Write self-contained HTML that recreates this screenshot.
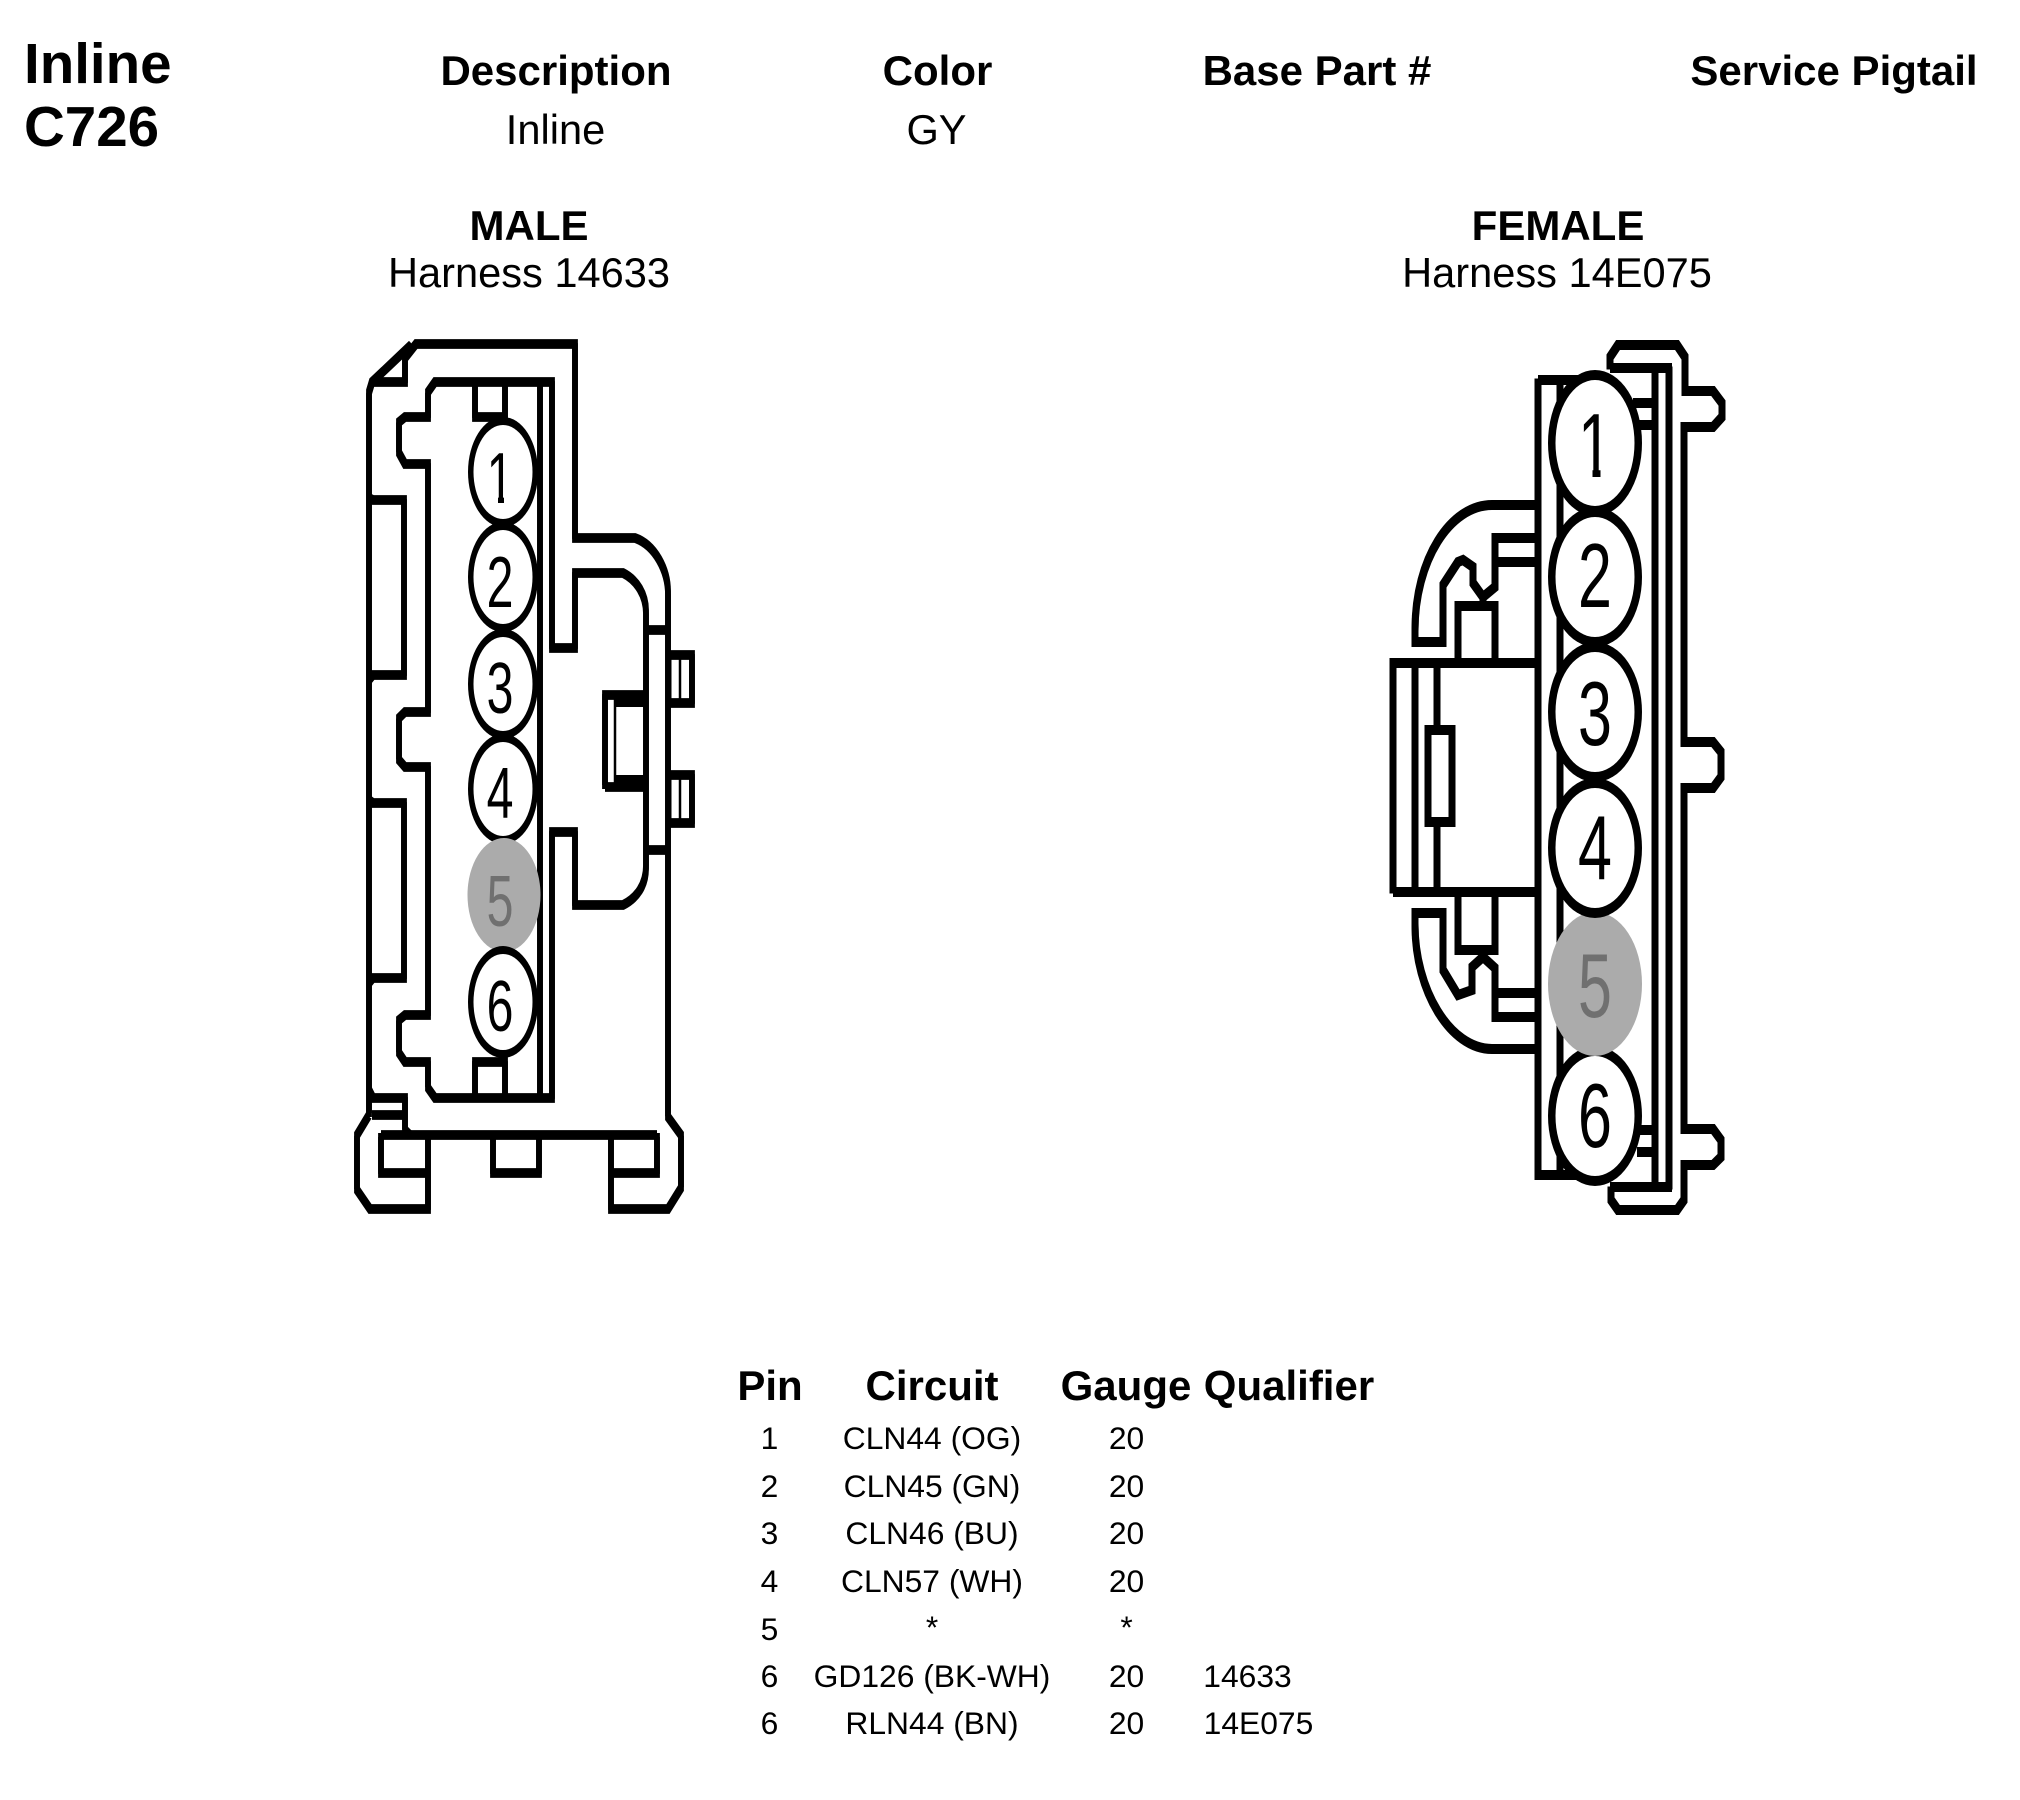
<!DOCTYPE html>
<html>
<head>
<meta charset="utf-8">
<style>
html,body{margin:0;padding:0;background:#fff}
svg{display:block}
text{font-family:"Liberation Sans",Arial,sans-serif;fill:#000}
.h{font-size:42px;font-weight:700;text-anchor:middle}
.n{font-size:41.6px;text-anchor:middle}
.t{font-size:56.5px;font-weight:700}
.r{font-size:31.8px;text-anchor:middle}
.s{fill:none;stroke:#000;stroke-linejoin:miter;stroke-linecap:butt}
</style>
</head>
<body>
<svg width="2020" height="1800" viewBox="0 0 2020 1800" xmlns="http://www.w3.org/2000/svg">
<rect width="2020" height="1800" fill="#fff"/>
<defs>
<g id="male" class="s" stroke-width="5.8">
<path d="M369 1115V392L372 382L411 345"/>
<path d="M372 382H405V358L416 344H575V538H635C655 545 668 570 668 593V1117L681 1135V1188L668 1209H611V1135"/>
<path d="M428 1135V1209H370L357 1190V1135L369 1115"/>
<path d="M381 1135H657"/>
<path d="M381 1135V1173H428"/>
<path d="M611 1173H657V1135"/>
<path d="M493 1135V1173H539V1135"/>
<path d="M369 498L373 500H404V675H373L369 680"/>
<path d="M369 800L373 803H404V978H373L369 983"/>
<path d="M369 1090L373 1098H405V1130L410 1135"/>
<path d="M372 1115H405"/>
<path d="M435 382H552V648H575V573H623C637 580 646 595 646 612V867C646 885 637 898 623 905H575V832H552V1098H435L428 1088V1062H405L399 1053V1020L405 1015H428V767H405L399 760V718L405 712H428V464H405L399 453V422L405 417H428V392Z"/>
<path d="M540 382V1098"/>
<path d="M475 382V417H505V382"/>
<path d="M475 1098V1062H505V1098"/>
<path d="M646 630H669"/>
<path d="M646 850H669"/>
<path d="M669 655H692V703H669"/>
<path d="M669 775H692V823H669"/>
<path d="M605 787V695H646"/>
<path d="M605 787H646"/>
</g>
<g id="female" class="s" stroke-width="7">
<path d="M1538 380H1600M1538 380V1175H1600"/>
<path d="M1560 380V1175"/>
<path d="M1655 367V1188"/>
<path d="M1669 368V1188"/>
<path d="M1610 368H1672M1610 1187H1672"/>
<path d="M1610 368V357L1618 345H1677L1685 357V391H1713L1722 403V417L1713 427H1684V742H1713L1721 752V777L1713 788H1684V1129H1713L1721 1140V1157L1713 1165H1684V1200L1677 1210H1618L1611 1200V1188"/>
<path d="M1633 403H1655M1633 425H1655M1637 1130H1655M1637 1152H1655"/>
<path d="M1538 505H1492C1450 505 1415 560 1415 630V642H1443V585L1458 562L1463 560L1473 567V583L1483 597L1495 587V538H1538"/>
<path d="M1495 562H1538"/>
<path d="M1483 597V606"/>
<path d="M1458 663V606H1495V663"/>
<path d="M1393 892V663H1538"/>
<path d="M1393 892H1538"/>
<path d="M1415 663V892"/>
<path d="M1437 663V730M1437 822V892"/>
<path d="M1428 730H1452V822H1428Z"/>
<path d="M1458 892V950H1495V892"/>
<path d="M1538 1049H1492C1450 1049 1415 990 1415 925V913H1443V970L1458 995L1472 990V967L1483 957L1495 968V1017H1538"/>
<path d="M1495 993H1538"/>
</g>
</defs>

<text class="t" x="24" y="83">Inline</text>
<text class="t" x="24" y="146">C726</text>
<text class="h" x="556" y="85">Description</text>
<text class="h" x="937.5" y="85">Color</text>
<text class="h" x="1317" y="85">Base Part #</text>
<text class="h" x="1834" y="85">Service Pigtail</text>
<text class="n" x="555.5" y="144">Inline</text>
<text class="n" x="936.5" y="144">GY</text>
<text class="h" x="529" y="240">MALE</text>
<text class="n" x="529" y="287">Harness 14633</text>
<text class="h" x="1558" y="240">FEMALE</text>
<text class="n" x="1557" y="287">Harness 14E075</text>

<!-- male connector -->
<use href="#male" y="-2"/>
<use href="#male" y="2"/>
<path d="M669 655V703M669 775V823" stroke="#000" stroke-width="5" fill="none"/>
<path d="M680 655V703M680 775V823M615 695V787" stroke="#000" stroke-width="2.5" fill="none"/>
<rect x="615" y="693" width="31" height="14"/>
<rect x="615" y="775" width="31" height="14"/>

<g>
<ellipse cx="503" cy="472" rx="35" ry="55"/><ellipse cx="503" cy="472" rx="29.5" ry="47" fill="#fff"/>
<ellipse cx="503" cy="577" rx="35" ry="55"/><ellipse cx="503" cy="577" rx="29.5" ry="47" fill="#fff"/>
<ellipse cx="503" cy="684" rx="35" ry="55"/><ellipse cx="503" cy="684" rx="29.5" ry="47" fill="#fff"/>
<ellipse cx="503" cy="789" rx="35" ry="55"/><ellipse cx="503" cy="789" rx="29.5" ry="47" fill="#fff"/>
<ellipse cx="504" cy="895" rx="36.5" ry="57" fill="#ababab"/>
<ellipse cx="503" cy="1002" rx="35" ry="56"/><ellipse cx="503" cy="1002" rx="29.5" ry="48" fill="#fff"/>
</g>
<g font-size="72" text-anchor="middle">
<text transform="translate(500 503) scale(.67 1)">1</text>
<rect x="485" y="497" width="13" height="8" fill="#fff"/><rect x="504" y="497" width="13" height="8" fill="#fff"/>
<text transform="translate(500 607) scale(.67 1)">2</text>
<text transform="translate(500 713) scale(.67 1)">3</text>
<text transform="translate(500 818) scale(.67 1)">4</text>
<text transform="translate(500 926) scale(.67 1)" style="fill:#707070">5</text>
<text transform="translate(500 1031) scale(.67 1)">6</text>
</g>

<!-- female connector -->
<use href="#female" y="-1.5"/>
<use href="#female" y="1.5"/>
<g>
<ellipse cx="1595" cy="1116" rx="47" ry="70"/><ellipse cx="1595" cy="1116" rx="39.5" ry="60" fill="#fff"/>
<ellipse cx="1595" cy="984" rx="47" ry="72" fill="#ababab"/>
<ellipse cx="1595" cy="443" rx="47" ry="73"/><ellipse cx="1595" cy="443" rx="39.5" ry="63" fill="#fff"/>
<ellipse cx="1595" cy="577" rx="47" ry="70"/><ellipse cx="1595" cy="577" rx="39.5" ry="60" fill="#fff"/>
<ellipse cx="1595" cy="712" rx="47" ry="70"/><ellipse cx="1595" cy="712" rx="39.5" ry="60" fill="#fff"/>
<ellipse cx="1595" cy="848" rx="47" ry="70"/><ellipse cx="1595" cy="848" rx="39.5" ry="60" fill="#fff"/>
</g>
<g font-size="91" text-anchor="middle">
<text transform="translate(1595 477) scale(.67 1)">1</text>
<rect x="1578" y="469" width="14.5" height="10" fill="#fff"/><rect x="1600.5" y="469" width="14.5" height="10" fill="#fff"/>
<text transform="translate(1595 607) scale(.67 1)">2</text>
<text transform="translate(1595 745) scale(.67 1)">3</text>
<text transform="translate(1595 879) scale(.67 1)">4</text>
<text transform="translate(1595 1017) scale(.67 1)" style="fill:#707070">5</text>
<text transform="translate(1595 1147) scale(.67 1)">6</text>
</g>

<!-- pin table -->
<text class="h" x="770" y="1400">Pin</text>
<text class="h" x="932" y="1400">Circuit</text>
<text class="h" x="1126" y="1400">Gauge</text>
<text class="h" x="1289" y="1400">Qualifier</text>

<g>
<text class="r" x="769.5" y="1449">1</text><text class="r" x="932" y="1449">CLN44 (OG)</text><text class="r" x="1126.5" y="1449">20</text>
<text class="r" x="769.5" y="1497">2</text><text class="r" x="932" y="1497">CLN45 (GN)</text><text class="r" x="1126.5" y="1497">20</text>
<text class="r" x="769.5" y="1544">3</text><text class="r" x="932" y="1544">CLN46 (BU)</text><text class="r" x="1126.5" y="1544">20</text>
<text class="r" x="769.5" y="1592">4</text><text class="r" x="932" y="1592">CLN57 (WH)</text><text class="r" x="1126.5" y="1592">20</text>
<text class="r" x="769.5" y="1640">5</text><text class="r" x="932" y="1638">*</text><text class="r" x="1126.5" y="1638">*</text>
<text class="r" x="769.5" y="1687">6</text><text class="r" x="932" y="1687">GD126 (BK-WH)</text><text class="r" x="1126.5" y="1687">20</text><text class="r" x="1247.5" y="1687">14633</text>
<text class="r" x="769.5" y="1734">6</text><text class="r" x="932" y="1734">RLN44 (BN)</text><text class="r" x="1126.5" y="1734">20</text><text class="r" x="1258.5" y="1734">14E075</text>
</g>
</svg>
</body>
</html>
